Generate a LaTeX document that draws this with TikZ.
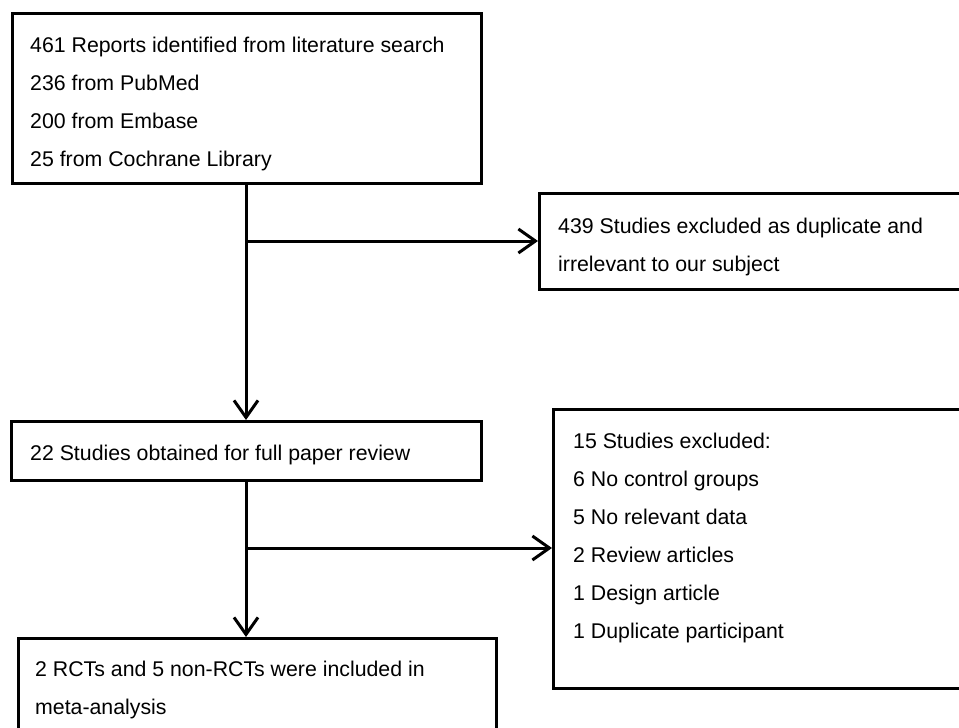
\documentclass[tikz,border=0pt]{standalone}
\usepackage{fontspec}
\setmainfont{Liberation Sans}
\usetikzlibrary{arrows.meta}
\begin{document}
\begin{tikzpicture}[x=1pt,y=-1pt,
  boxshape/.style={draw,line width=3.2pt,rectangle,inner sep=0pt,anchor=north west},
  txt/.style={anchor=north west,inner sep=0pt,align=left,font=\fontsize{21.3}{38}\selectfont},
  conn/.style={line width=3pt,-{Straight Barb[length=17pt,width=24pt]}},
  plain/.style={line width=3pt}]
\clip (0,0) rectangle (959,728);
\useasboundingbox (0,0) rectangle (959,728);
\fill[white] (0,0) rectangle (959,728);
% boxes
\node[boxshape,minimum width=469pt,minimum height=170pt] (b1) at (11,12) {};
\node[boxshape,minimum width=440pt,minimum height=96pt] (b2) at (538,192) {};
\node[boxshape,minimum width=470pt,minimum height=59pt] (b3) at (10,420) {};
\node[boxshape,minimum width=430pt,minimum height=279pt] (b4) at (552,408) {};
\node[boxshape,minimum width=478pt,minimum height=140pt] (b5) at (17,637) {};
% texts
\node[txt] (t1) at ([xshift=19pt,yshift=-24.5pt]b1.north west) {461 Reports identified from literature search\\236 from PubMed\\200 from Embase\\25 from Cochrane Library};
\node[txt] (t2) at ([xshift=20pt,yshift=-25.5pt]b2.north west) {439 Studies excluded as duplicate and\\irrelevant to our subject};
\node[txt] (t3) at ([xshift=20pt,yshift=-24.5pt]b3.north west) {22 Studies obtained for full paper review};
\node[txt] (t4) at ([xshift=21pt,yshift=-24.5pt]b4.north west) {15 Studies excluded:\\6 No control groups\\5 No relevant data\\2 Review articles\\1 Design article\\1 Duplicate participant};
\node[txt] (t5) at ([xshift=18pt,yshift=-23.5pt]b5.north west) {2 RCTs and 5 non-RCTs were included in\\meta-analysis};
% connectors
\coordinate (j1) at (246,241);
\coordinate (j2) at (246,548);
\draw[conn] (b1.south -| j1) -- (b3.north -| j1);
\draw[conn] (j1) -- (b2.west |- j1);
\draw[conn] (b3.south -| j2) -- (b5.north -| j2);
\draw[conn] (j2) -- (b4.west |- j2);
\end{tikzpicture}
\end{document}
